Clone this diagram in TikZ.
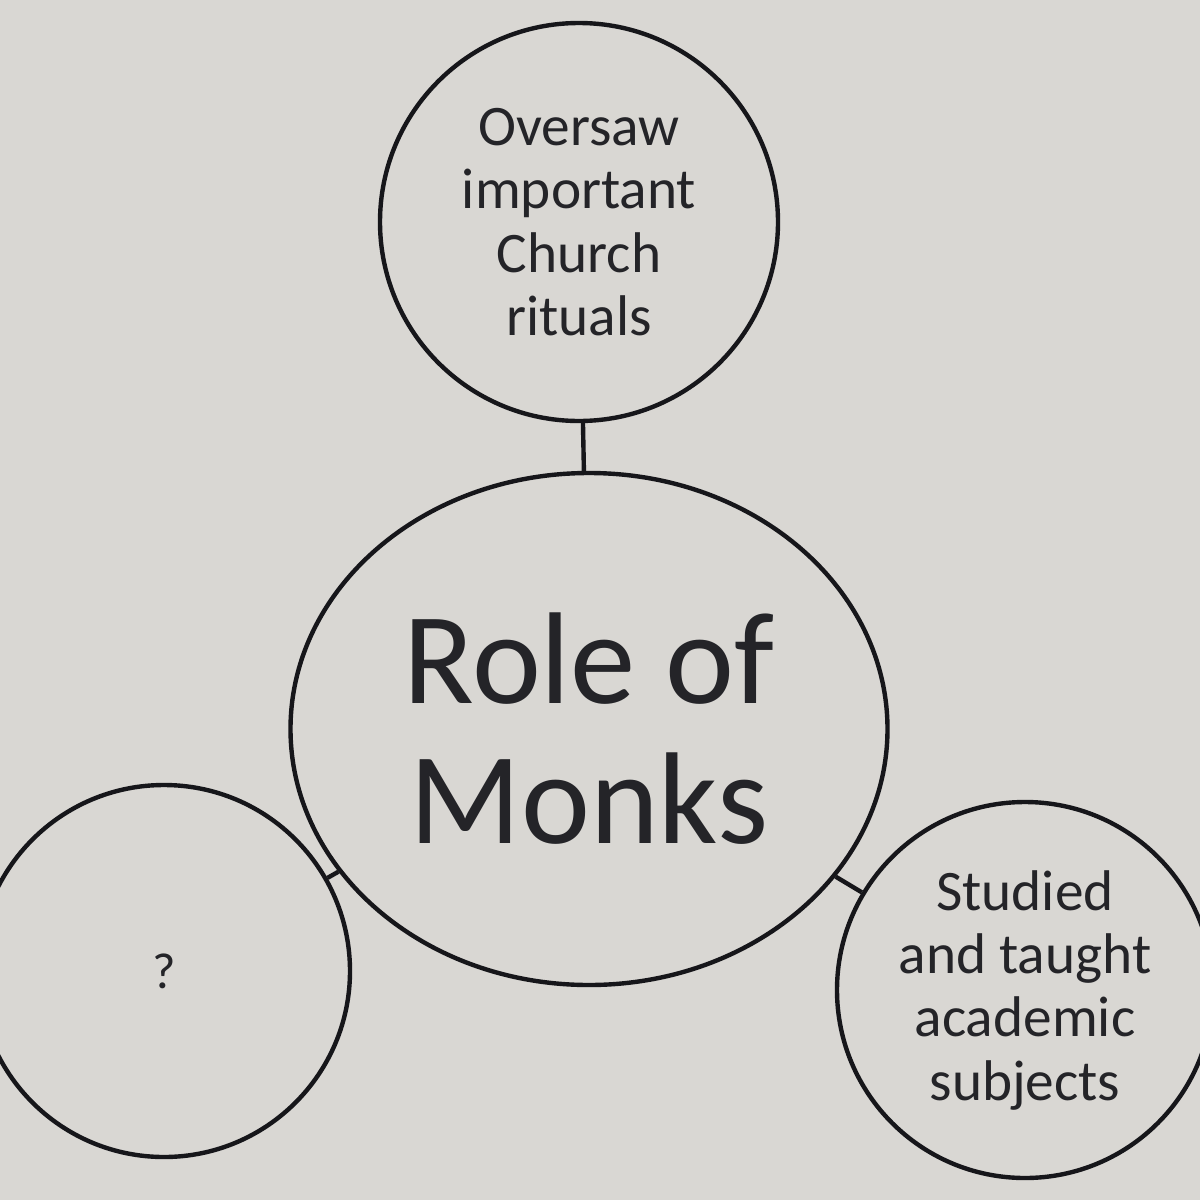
\documentclass[tikz,border=0pt]{standalone}
\usepackage{fontspec}
\setmainfont{Carlito}
\usetikzlibrary{shapes.geometric}

\definecolor{paper}{RGB}{217,215,211}
\definecolor{ink}{RGB}{22,22,26}
\definecolor{textink}{RGB}{36,36,40}

\tikzset{every picture/.style={line width=0.75pt}}
\tikzset{
  bubble/.style={draw=ink, line width=3.3pt, circle, inner sep=0pt, align=center, text=textink},
  smalltext/.style={font=\fontsize{43}{47.5}\selectfont},
}

\begin{document}
\begin{tikzpicture}[x=0.75pt,y=0.75pt,yscale=-1,xscale=1]
    \useasboundingbox (0,0) rectangle (1200,1200);
    \clip (0,0) rectangle (1200,1200);
    \fill [paper] (0,0) rectangle (1200,1200);

    %Shape: Ellipse [role]
    \node [bubble, ellipse, minimum width=597*0.75pt, minimum height=512*0.75pt, font=\fontsize{98}{105}\selectfont] (role) at (589,729) {Role of\\Monks};
    %Shape: Circle [top]
    \node [bubble, smalltext, minimum size=398*0.75pt] (top) at (579,222) {Oversaw\\important\\Church\\rituals};
    %Shape: Circle [left]
    \node [bubble, minimum size=372*0.75pt, font=\fontsize{38}{40}\selectfont] (left) at (164,971) {?};
    %Shape: Circle [right]
    \node [bubble, smalltext, minimum size=376*0.75pt] (right) at (1025,990) {Studied\\and taught\\academic\\subjects};

    %Straight Lines [top to role]
    \draw [ink, line width=3.3pt] (top) -- (role);
    %Straight Lines [left to role]
    \draw [ink, line width=3.3pt] (left) -- (role);
    %Straight Lines [right to role]
    \draw [ink, line width=3.3pt] (right) -- (role);

\end{tikzpicture}
\end{document}
